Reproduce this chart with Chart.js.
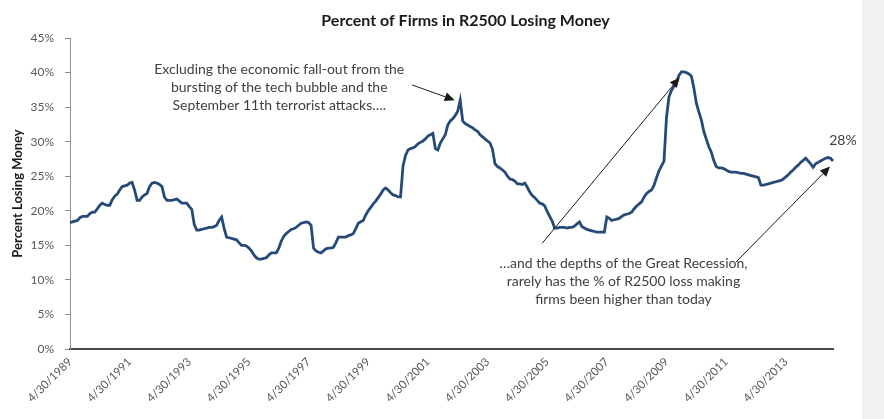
<!DOCTYPE html>
<html>
<head>
<meta charset="utf-8">
<script src="https://cdn.jsdelivr.net/npm/chart.js@4.4.1/dist/chart.umd.min.js"></script>
<style>
  html, body { margin: 0; padding: 0; background: #f1f1f1; }
  #wrap { width: 862px; height: 419px; background: #fff; }
</style>
</head>
<body>
<div id="wrap"><canvas id="lossChart" width="862" height="419"></canvas></div>
<script>
// monthly, starting April 1989
const lossPct = [
  18.3, 18.4, 18.5, 18.6, 19.0, 19.2, 19.2, 19.2, 19.6, 19.8, 19.8, 20.3,
  20.8, 21.1, 20.9, 20.8, 20.8, 21.6, 22.1, 22.4, 23.0, 23.5, 23.6, 23.7,
  24.0, 24.1, 23.0, 21.5, 21.5, 22.0, 22.3, 22.5, 23.5, 24.0, 24.1, 24.0,
  23.8, 23.5, 22.0, 21.5, 21.5, 21.5, 21.6, 21.7, 21.4, 21.1, 21.1, 21.1,
  20.6, 20.2, 18.0, 17.2, 17.2, 17.3, 17.4, 17.5, 17.6, 17.6, 17.7, 17.9,
  18.6, 19.1, 17.5, 16.2, 16.1, 16.0, 15.9, 15.8, 15.4, 15.0, 15.0, 14.9,
  14.6, 14.2, 13.6, 13.2, 13.0, 13.0, 13.1, 13.2, 13.6, 13.9, 13.9, 13.9,
  14.6, 15.6, 16.3, 16.7, 17.0, 17.3, 17.4, 17.6, 17.9, 18.2, 18.3, 18.4,
  18.3, 17.9, 14.6, 14.2, 14.0, 13.9, 14.2, 14.5, 14.6, 14.6, 14.7, 15.4,
  16.2, 16.2, 16.2, 16.2, 16.4, 16.5, 16.7, 17.4, 18.2, 18.4, 18.6, 19.4,
  20.0, 20.5, 21.0, 21.4, 21.9, 22.4, 23.0, 23.3, 23.0, 22.6, 22.3, 22.2,
  22.0, 22.0, 26.5, 28.0, 28.8, 29.0, 29.1, 29.3, 29.7, 29.9, 30.1, 30.4,
  30.8, 31.0, 31.2, 29.0, 28.8, 29.8, 30.4, 31.0, 32.4, 33.0, 33.3, 33.8,
  34.4, 36.0, 33.0, 32.6, 32.4, 32.2, 32.0, 31.7, 31.5, 31.0, 30.7, 30.4,
  30.1, 29.8, 28.9, 26.8, 26.4, 26.2, 25.9, 25.6, 25.0, 24.6, 24.5, 24.3,
  23.9, 23.9, 23.8, 24.0, 23.4, 22.7, 22.2, 21.9, 21.5, 21.1, 21.0, 20.7,
  19.9, 19.2, 18.5, 17.5, 17.5, 17.6, 17.6, 17.6, 17.5, 17.6, 17.6, 17.8,
  18.1, 18.4, 17.7, 17.5, 17.3, 17.2, 17.1, 17.0, 16.9, 16.9, 16.9, 16.9,
  19.1, 18.9, 18.6, 18.7, 18.8, 18.9, 19.2, 19.4, 19.5, 19.6, 19.8, 20.3,
  20.7, 21.0, 21.3, 22.0, 22.5, 22.8, 23.0, 23.7, 24.8, 25.8, 26.5, 27.2,
  33.5, 36.5, 37.4, 38.0, 38.6, 39.6, 40.1, 40.1, 40.0, 39.8, 39.5, 37.8,
  35.6, 34.3, 33.2, 31.5, 30.4, 29.3, 28.5, 27.3, 26.4, 26.2, 26.2, 26.1,
  25.9, 25.7, 25.6, 25.6, 25.6, 25.5, 25.4, 25.4, 25.3, 25.2, 25.1, 25.0,
  24.9, 24.8, 23.7, 23.7, 23.8, 23.9, 24.0, 24.1, 24.2, 24.3, 24.4, 24.6,
  24.9, 25.2, 25.6, 25.9, 26.3, 26.6, 27.0, 27.3, 27.6, 27.2, 26.8, 26.3,
  26.8, 27.0, 27.2, 27.4, 27.6, 27.7, 27.6, 27.2
];

const tickLabels = ["4/30/1989", "4/30/1991", "4/30/1993", "4/30/1995", "4/30/1997",
  "4/30/1999", "4/30/2001", "4/30/2003", "4/30/2005", "4/30/2007", "4/30/2009",
  "4/30/2011", "4/30/2013"];
const yTicks = [0, 5, 10, 15, 20, 25, 30, 35, 40, 45];
const chartTitle = "Percent of Firms in R2500 Losing Money";

// month-end category labels
const categories = [];
for (let i = 0; i < lossPct.length; i++) {
  const d = new Date(Date.UTC(1989, 3 + i + 1, 0));
  categories.push((d.getUTCMonth() + 1) + "/" + d.getUTCDate() + "/" + d.getUTCFullYear());
}

// callouts, placed in data units: [month index, percent]
const notes = [
  { at: [84.2, 40.5], lines: ["Excluding the economic fall-out from the",
    "bursting of the tech bubble and the", "September 11th terrorist attacks…."] },
  { at: [222.7, 12.4], lines: ["…and the depths of the Great Recession,",
    "rarely has the % of R2500 loss making", "firms been higher than today"] },
  { at: [311, 30.1], lines: ["28%"] }
];
const arrows = [
  { from: [137.7, 38.2], to: [154.8, 36.0] },
  { from: [190.0, 15.3], to: [245.3, 39.3] },
  { from: [268.0, 12.6], to: [305.8, 26.4] }
];

const calloutPlugin = {
  id: "callouts",
  afterDraw(chart) {
    const { ctx, chartArea, scales: { x, y } } = chart;
    ctx.save();
    ctx.textAlign = "center";
    ctx.textBaseline = "middle";
    ctx.fillStyle = "#1a1a1a";
    ctx.font = "bold 16px Lato";
    ctx.fillText(chartTitle, (chartArea.left + chartArea.right) / 2 + 14, 21);

    ctx.fillStyle = "#3f3f3f";
    ctx.font = "14px Lato";
    notes.forEach(n => {
      const px = x.getPixelForValue(n.at[0]);
      const py = y.getPixelForValue(n.at[1]);
      n.lines.forEach((t, i) => ctx.fillText(t, px, py + i * 18));
    });
    ctx.strokeStyle = "#1a1a1a";
    ctx.fillStyle = "#1a1a1a";
    ctx.lineWidth = 1;
    arrows.forEach(a => {
      const x1 = x.getPixelForValue(a.from[0]), y1 = y.getPixelForValue(a.from[1]);
      const x2 = x.getPixelForValue(a.to[0]), y2 = y.getPixelForValue(a.to[1]);
      const ang = Math.atan2(y2 - y1, x2 - x1);
      const hl = 10, hw = 4.5;
      const bx = x2 - hl * Math.cos(ang), by = y2 - hl * Math.sin(ang);
      ctx.beginPath();
      ctx.moveTo(x1, y1);
      ctx.lineTo(bx, by);
      ctx.stroke();
      ctx.beginPath();
      ctx.moveTo(x2, y2);
      ctx.lineTo(bx + hw * Math.sin(ang), by - hw * Math.cos(ang));
      ctx.lineTo(bx - hw * Math.sin(ang), by + hw * Math.cos(ang));
      ctx.closePath();
      ctx.fill();
    });
    ctx.restore();
  }
};

const ctx = document.getElementById("lossChart").getContext("2d");
new Chart(ctx, {
  type: "line",
  data: {
    labels: categories,
    datasets: [{
      label: "Percent Losing Money",
      data: lossPct,
      borderColor: "#264a78",
      borderWidth: 2.8,
      pointRadius: 0,
      tension: 0,
      fill: false
    }]
  },
  options: {
    responsive: false,
    animation: false,
    layout: { padding: { left: 0, right: 29, top: 38, bottom: 0 } },
    plugins: {
      legend: { display: false },
      tooltip: { enabled: false },
      title: { display: false }
    },
    scales: {
      x: {
        grid: { display: false, drawTicks: false },
        border: { display: true, color: "#4a4a4a", width: 2 },
        ticks: {
          autoSkip: false,
          minRotation: 45,
          maxRotation: 45,
          padding: 6,
          color: "#595959",
          font: { family: "Lato", size: 11.5 },
          callback: (v, i) => (i % 24 === 0 ? tickLabels[i / 24] : "")
        },
        afterFit: s => { s.height = 70; }
      },
      y: {
        min: 0,
        max: 45,
        afterBuildTicks: s => { s.ticks = yTicks.map(v => ({ value: v })); },
        grid: { drawOnChartArea: false, drawTicks: true, tickLength: 5, color: "#8c8c8c" },
        border: { display: true, color: "#8c8c8c", width: 1 },
        ticks: {
          padding: 11,
          color: "#595959",
          font: { family: "Lato", size: 12 },
          callback: v => v + "%"
        },
        title: {
          display: true,
          text: "Percent Losing Money",
          color: "#1a1a1a",
          font: { family: "Lato", size: 13, weight: "bold" },
          padding: { top: 10, bottom: 0 }
        },
        afterFit: s => { s.width = 70; }
      }
    }
  },
  plugins: [calloutPlugin]
});
</script>
</body>
</html>
